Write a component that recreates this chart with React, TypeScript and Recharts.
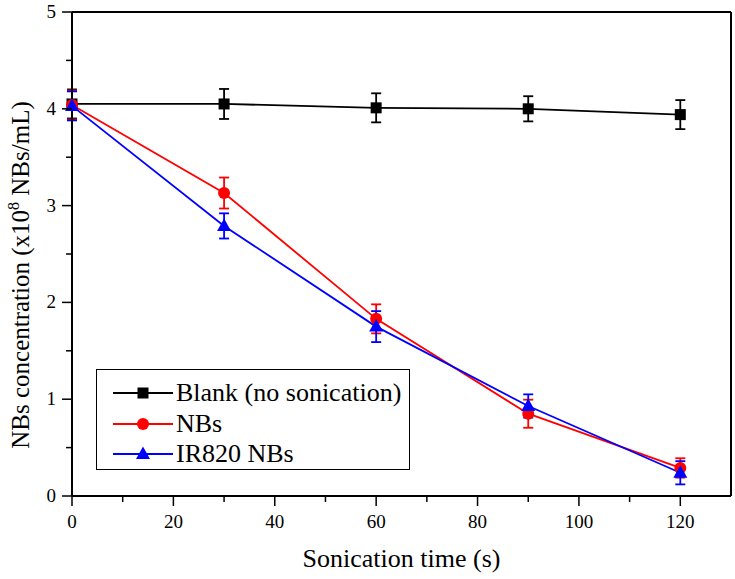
import {
  LineChart,
  Line,
  XAxis,
  YAxis,
  ErrorBar,
  ReferenceLine,
  Legend,
} from 'recharts';

const times = [0, 30, 60, 90, 120];
const blank = [4.05, 4.05, 4.01, 4.0, 3.94];
const blankErr = [0.15, 0.155, 0.15, 0.13, 0.15];
const nbs = [4.04, 3.13, 1.83, 0.85, 0.29];
const nbsErr = [0.15, 0.16, 0.15, 0.145, 0.1];
const ir820 = [4.03, 2.79, 1.75, 0.93, 0.24];
const ir820Err = [0.15, 0.13, 0.16, 0.12, 0.12];

const xTicks = [0, 10, 20, 30, 40, 50, 60, 70, 80, 90, 100, 110, 120];
const yTicks = [0, 0.5, 1, 1.5, 2, 2.5, 3, 3.5, 4, 4.5, 5];

const data = times.map((t, i) => ({
  t,
  blank: blank[i],
  blankErr: blankErr[i],
  nbs: nbs[i],
  nbsErr: nbsErr[i],
  ir820: ir820[i],
  ir820Err: ir820Err[i],
}));

const FONT = 'Liberation Serif, DejaVu Serif, serif';

const series = [
  { key: 'blank', err: 'blankErr', name: 'Blank (no sonication)', color: '#000000', shape: 'square' },
  { key: 'nbs', err: 'nbsErr', name: 'NBs', color: '#ff0000', shape: 'circle' },
  { key: 'ir820', err: 'ir820Err', name: 'IR820 NBs', color: '#0000ff', shape: 'triangle' },
];

function Marker({ cx, cy, shape, color }: { cx: number; cy: number; shape: string; color: string }) {
  if (shape === 'square') return <rect x={cx - 5.5} y={cy - 5.5} width={11} height={11} fill={color} />;
  if (shape === 'circle') return <circle cx={cx} cy={cy} r={6} fill={color} />;
  return <polygon points={`${cx},${cy - 7.5} ${cx - 7},${cy + 5} ${cx + 7},${cy + 5}`} fill={color} />;
}

// eslint-disable-next-line @typescript-eslint/no-explicit-any
const makeDot = (shape: string, color: string) => (props: any) => (
  <Marker key={props.index} cx={props.cx} cy={props.cy} shape={shape} color={color} />
);

// eslint-disable-next-line @typescript-eslint/no-explicit-any
const XTick = ({ x, y, payload }: any) => {
  const major = payload.value % 20 === 0;
  return (
    <g>
      <line x1={x} x2={x} y1={y} y2={y + (major ? 10 : 6)} stroke="#000" strokeWidth={1.5} />
      {major && (
        <text x={x} y={y + 32} textAnchor="middle" style={{ fontFamily: FONT }} fontSize={19} fill="#000">
          {payload.value}
        </text>
      )}
    </g>
  );
};

// eslint-disable-next-line @typescript-eslint/no-explicit-any
const YTick = ({ x, y, payload }: any) => {
  const major = Number.isInteger(payload.value);
  return (
    <g>
      <line x1={x} x2={x - (major ? 10 : 6)} y1={y} y2={y} stroke="#000" strokeWidth={1.5} />
      {major && (
        <text x={x - 16} y={y + 6} textAnchor="end" style={{ fontFamily: FONT }} fontSize={19} fill="#000">
          {payload.value}
        </text>
      )}
    </g>
  );
};

const YTitle = () => (
  <text
    transform="translate(29, 275) rotate(-90)"
    textAnchor="middle"
    style={{ fontFamily: FONT }}
    fontSize={25}
    fill="#000"
  >
    NBs concentration (x10
    <tspan dy={-10} fontSize={16}>8</tspan>
    <tspan dy={10}> NBs/mL)</tspan>
  </text>
);

const LegendBox = () => (
  <div
    style={{
      border: '1px solid #000',
      background: '#fff',
      width: 314,
      height: 101,
      boxSizing: 'border-box',
      paddingTop: 8,
      fontFamily: FONT,
      fontSize: 26,
      color: '#000',
    }}
  >
    {series.map((s) => (
      <div key={s.key} style={{ display: 'flex', alignItems: 'center', height: 30.5 }}>
        <svg width={78} height={20} style={{ marginLeft: 14 }}>
          <line x1={2} x2={62} y1={10} y2={10} stroke={s.color} strokeWidth={1.8} />
          <Marker cx={32} cy={10} shape={s.shape} color={s.color} />
        </svg>
        <span style={{ marginLeft: -13, lineHeight: 1 }}>{s.name}</span>
      </div>
    ))}
  </div>
);

export default function App() {
  return (
    <div style={{ position: 'absolute', left: 0, top: 0, background: '#fff', fontFamily: FONT }}>
      <LineChart width={735} height={579} data={data} margin={{ top: 12, right: 4, left: 0, bottom: 0 }}>
        <XAxis
          dataKey="t"
          type="number"
          domain={[0, 130]}
          ticks={xTicks}
          interval={0}
          tick={<XTick />}
          tickSize={0}
          tickMargin={0}
          tickLine={false}
          axisLine={{ stroke: '#000', strokeWidth: 2 }}
          height={83}
          label={{
            value: 'Sonication time (s)',
            position: 'insideBottom',
            offset: 12,
            style: { fontFamily: FONT, fontSize: 26, fill: '#000' },
          }}
        />
        <YAxis
          type="number"
          domain={[0, 5]}
          ticks={yTicks}
          interval={0}
          tick={<YTick />}
          tickSize={0}
          tickMargin={0}
          tickLine={false}
          axisLine={{ stroke: '#000', strokeWidth: 2 }}
          width={72}
          label={<YTitle />}
        />
        <ReferenceLine y={5} stroke="#000" strokeWidth={2} />
        <ReferenceLine x={130} stroke="#000" strokeWidth={2} />
        <Legend
          layout="vertical"
          align="center"
          verticalAlign="middle"
          content={<LegendBox />}
          wrapperStyle={{ left: 96, top: 369, width: 314, height: 101 }}
        />
        {series.map((s) => (
          <Line
            key={s.key}
            dataKey={s.key}
            name={s.name}
            stroke={s.color}
            strokeWidth={1.8}
            type="linear"
            dot={makeDot(s.shape, s.color)}
            activeDot={false}
            isAnimationActive={false}
          >
            <ErrorBar dataKey={s.err} width={5} stroke={s.color} strokeWidth={1.8} direction="y" />
          </Line>
        ))}
      </LineChart>
    </div>
  );
}
